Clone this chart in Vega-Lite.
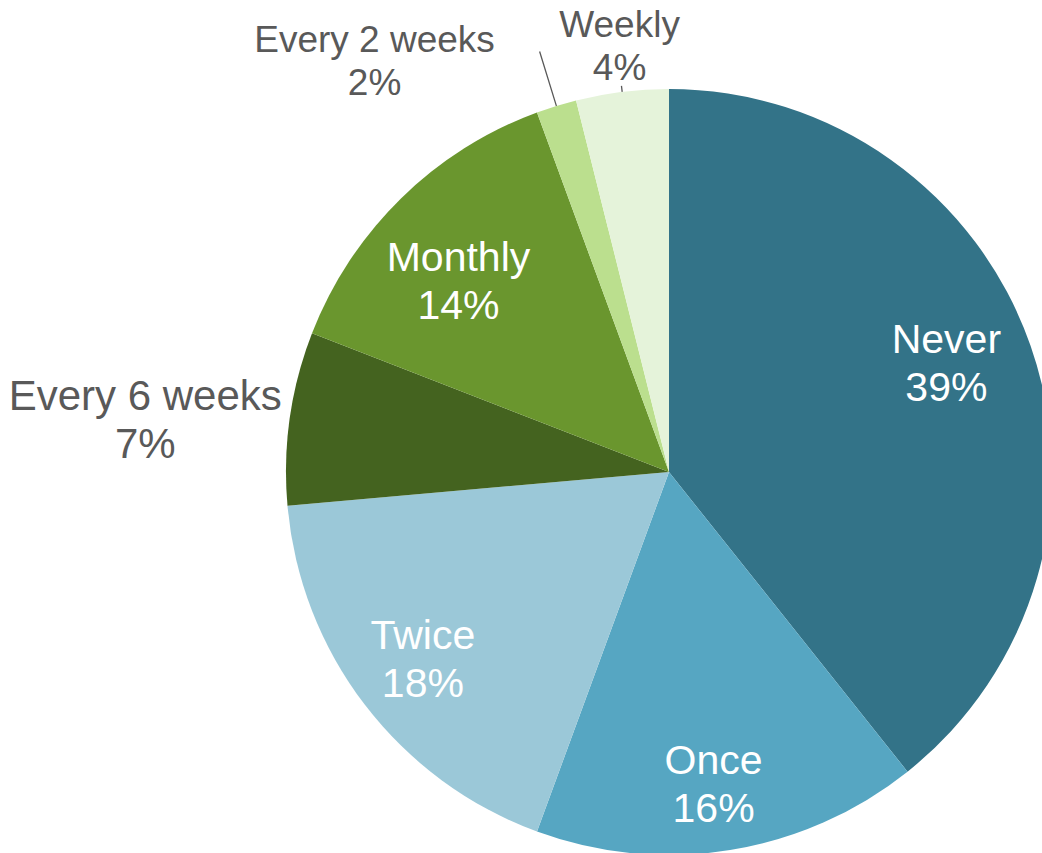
{
  "$schema": "https://vega.github.io/schema/vega-lite/v6.json",
  "width": 746,
  "height": 762,
  "autosize": {"type": "none"},
  "padding": {"left": 296, "top": 91, "right": 0, "bottom": 0},
  "background": "white",
  "config": {"view": {"stroke": null}, "text": {"font": "Liberation Sans"}},
  "data": {
    "values": [
      {"cat": "Never", "value": 39.3, "label": "Never\n39%", "idx": 1},
      {"cat": "Once", "value": 16.3, "label": "Once\n16%", "idx": 2},
      {"cat": "Twice", "value": 18.0, "label": "Twice\n18%", "idx": 3},
      {"cat": "Every 6 weeks", "value": 7.3, "label": "Every 6 weeks\n7%", "idx": 4},
      {"cat": "Monthly", "value": 13.5, "label": "Monthly\n14%", "idx": 5},
      {"cat": "Every 2 weeks", "value": 1.7, "label": "Every 2 weeks\n2%", "idx": 6},
      {"cat": "Weekly", "value": 3.9, "label": "Weekly\n4%", "idx": 7}
    ]
  },
  "encoding": {
    "theta": {"field": "value", "type": "quantitative", "stack": true},
    "order": {"field": "idx", "type": "quantitative"}
  },
  "layer": [
    {
      "mark": {"type": "arc", "outerRadius": 383},
      "encoding": {
        "color": {
          "field": "cat",
          "type": "nominal",
          "legend": null,
          "scale": {
            "domain": ["Never", "Once", "Twice", "Every 6 weeks", "Monthly", "Every 2 weeks", "Weekly"],
            "range": ["#337388", "#56A6C2", "#9BC8D8", "#44631F", "#6A962E", "#BBDF8E", "#E5F3DA"]
          }
        }
      }
    },
    {
      "mark": {"type": "arc", "radius": 440, "radius2": 383, "padAngle": 0.6, "fill": null, "stroke": "#595959", "strokeWidth": 1.3},
      "encoding": {
        "strokeOpacity": {"condition": {"test": "datum.cat === 'Every 2 weeks'", "value": 1}, "value": 0}
      }
    },
    {
      "mark": {"type": "arc", "radius": 389, "radius2": 383, "padAngle": 0.6, "fill": null, "stroke": "#595959", "strokeWidth": 1.3},
      "encoding": {
        "strokeOpacity": {"condition": {"test": "datum.cat === 'Weekly'", "value": 1}, "value": 0}
      }
    },
    {
      "mark": {"type": "text", "radius": 297, "dx": -3, "dy": -33, "fontSize": 41, "lineHeight": 48, "lineBreak": "\n", "fill": "white", "align": "center", "baseline": "middle"},
      "encoding": {"text": {"condition": {"test": "datum.cat === 'Never'", "field": "label"}, "value": ""}}
    },
    {
      "mark": {"type": "text", "radius": 317, "dx": -6, "dy": -23, "fontSize": 41, "lineHeight": 48, "lineBreak": "\n", "fill": "white", "align": "center", "baseline": "middle"},
      "encoding": {"text": {"condition": {"test": "datum.cat === 'Once'", "field": "label"}, "value": ""}}
    },
    {
      "mark": {"type": "text", "radius": 310, "dx": 0, "dy": -23, "fontSize": 41, "lineHeight": 48, "lineBreak": "\n", "fill": "white", "align": "center", "baseline": "middle"},
      "encoding": {"text": {"condition": {"test": "datum.cat === 'Twice'", "field": "label"}, "value": ""}}
    },
    {
      "mark": {"type": "text", "radius": 282, "dx": -13, "dy": -12, "fontSize": 41, "lineHeight": 48, "lineBreak": "\n", "fill": "white", "align": "center", "baseline": "middle"},
      "encoding": {"text": {"condition": {"test": "datum.cat === 'Monthly'", "field": "label"}, "value": ""}}
    },
    {
      "mark": {"type": "text", "radius": 527, "dx": -2, "dy": -1, "fontSize": 42, "lineHeight": 48, "lineBreak": "\n", "fill": "#595959", "align": "center", "baseline": "middle"},
      "encoding": {"text": {"condition": {"test": "datum.cat === 'Every 6 weeks'", "field": "label"}, "value": ""}}
    },
    {
      "mark": {"type": "text", "radius": 430, "dx": -168, "dy": -20, "fontSize": 37, "lineHeight": 43, "lineBreak": "\n", "fill": "#595959", "align": "center", "baseline": "middle"},
      "encoding": {"text": {"condition": {"test": "datum.cat === 'Every 2 weeks'", "field": "label"}, "value": ""}}
    },
    {
      "mark": {"type": "text", "radius": 429, "dx": 3, "dy": -20, "fontSize": 37, "lineHeight": 43, "lineBreak": "\n", "fill": "#595959", "align": "center", "baseline": "middle"},
      "encoding": {"text": {"condition": {"test": "datum.cat === 'Weekly'", "field": "label"}, "value": ""}}
    }
  ]
}
